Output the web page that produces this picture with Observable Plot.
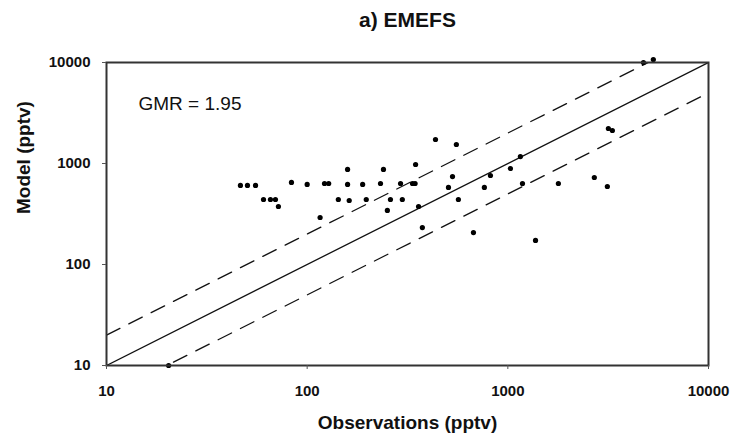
<!DOCTYPE html>
<html>
<head>
<meta charset="utf-8">
<script src="https://cdn.jsdelivr.net/npm/d3@7"></script>
<script src="https://cdn.jsdelivr.net/npm/@observablehq/plot@0.6"></script>
<style>
  html, body { margin: 0; padding: 0; background: #fff; }
</style>
</head>
<body>
<div id="chart"></div>
<script>
// Observations (pptv) and model (pptv)
const observations = [46.5, 50.4, 55.3, 60.6, 65.6, 69.5, 71.9, 83.5, 100, 116,
  122, 128, 143, 159, 159, 162, 189, 197, 232, 240,
  251, 260, 298, 292, 335, 345, 347, 359, 375, 436,
  554, 530, 506, 567, 674, 764, 819, 1030, 1155, 1183,
  1374, 1786, 2698, 3133, 3170, 3319, 4740, 5310, 20.4];
const model = [606, 606, 606, 440, 440, 440, 375, 649, 620, 292,
  634, 634, 440, 873, 620, 430, 620, 440, 634, 873,
  343, 440, 440, 634, 634, 634, 977, 375, 232, 1729,
  1543, 743, 579, 440, 207, 579, 761, 892, 1172, 634,
  173, 634, 727, 592, 2222, 2123, 10000, 10700, 10];

const tickValues = [10, 100, 1000, 10000];
const lineEnds = [10, 10000];
const ratios = [1, 2, 0.5];       // 1:1, 2:1, 1:2 lines
const title = "a) EMEFS";
const xTitle = "Observations (pptv)";
const yTitle = "Model (pptv)";
const note = "GMR = 1.95";

const points = observations.map((o, i) => ({obs: o, mod: model[i]}));
const ratioLine = k => lineEnds.map(x => ({x, y: k * x}));

const chart = Plot.plot({
  width: 739,
  height: 440,
  marginLeft: 106,
  marginRight: 31,
  marginTop: 62,
  marginBottom: 75,
  style: {fontFamily: "'Liberation Sans', Arial, sans-serif", color: "#111", background: "#fff"},
  x: {type: "log", domain: [10, 10000]},
  y: {type: "log", domain: [10, 10000]},
  marks: [
    Plot.line(ratioLine(ratios[0]), {x: "x", y: "y", stroke: "#111", strokeWidth: 1.3, clip: true}),
    Plot.line(ratioLine(ratios[1]), {x: "x", y: "y", stroke: "#111", strokeWidth: 1.3, strokeDasharray: "15,10", clip: true}),
    Plot.line(ratioLine(ratios[2]), {x: "x", y: "y", stroke: "#111", strokeWidth: 1.3, strokeDasharray: "15,10", clip: true}),
    Plot.dot(points, {x: "obs", y: "mod", r: 2.6, fill: "#000", stroke: "none"}),
    Plot.frame({stroke: "#333", strokeWidth: 2}),
    Plot.axisX(tickValues, {tickSize: 4, tickPadding: 16, tickFormat: d => String(d), label: null, fontSize: 15, fontWeight: "bold", stroke: "#555"}),
    Plot.axisY(tickValues, {tickSize: 4, tickPadding: 12, tickFormat: d => String(d), label: null, fontSize: 15, fontWeight: "bold", stroke: "#555"}),
    Plot.text([note], {frameAnchor: "top-left", lineAnchor: "middle", dx: 32, dy: 41, fontSize: 19, fill: "#111", text: d => d}),
    Plot.text([title], {frameAnchor: "top", lineAnchor: "middle", dy: -42, fontSize: 21, fontWeight: "bold", fill: "#111", text: d => d}),
    Plot.text([xTitle], {frameAnchor: "bottom", lineAnchor: "middle", dy: 57, fontSize: 19, fontWeight: "bold", fill: "#111", text: d => d}),
    Plot.text([yTitle], {frameAnchor: "left", lineAnchor: "middle", dx: -83, rotate: -90, fontSize: 19, fontWeight: "bold", fill: "#111", text: d => d})
  ]
});
document.getElementById("chart").appendChild(chart);
</script>
</body>
</html>
